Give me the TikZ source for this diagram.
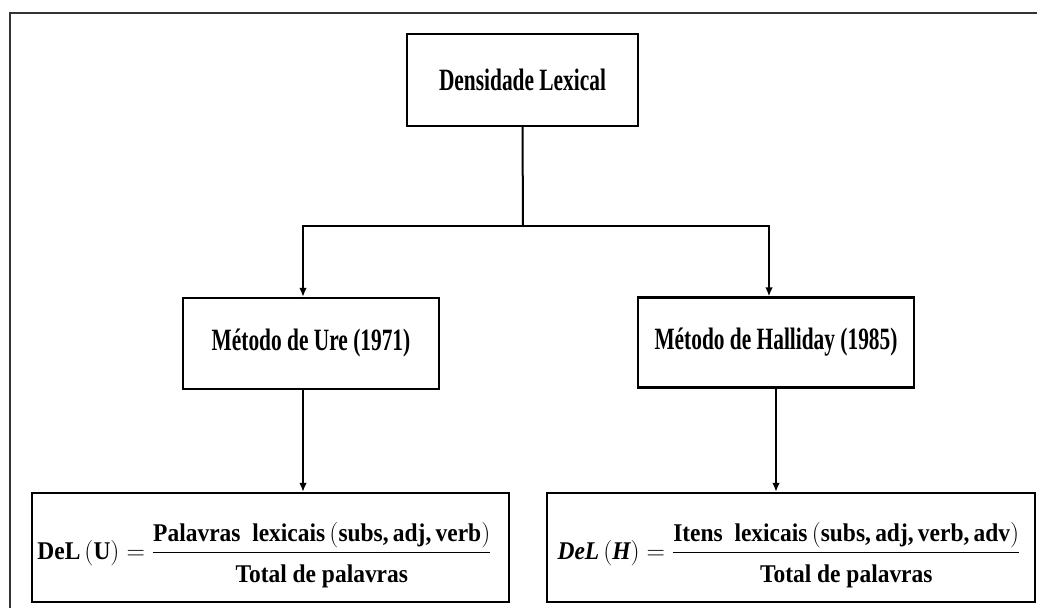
\documentclass[tikz,border=0pt]{standalone}
\usepackage{fix-cm}
\usepackage{amsmath}
\usepackage{fontspec}
\setmainfont{Liberation Serif}
\newfontfamily\ttlfont[FakeStretch=0.69]{Liberation Serif}
\newfontfamily\fmlfont[FakeStretch=0.92]{Liberation Serif}
\usetikzlibrary{arrows.meta}
\newcommand\fracbar[2]{\genfrac{}{}{1.3pt}{0}{#1}{#2}}
\newcommand\dstrut{\rule{0pt}{25.4pt}}
\begin{document}
\begin{tikzpicture}[x=1pt,y=-1pt,
  boxline/.style={draw=black, line width=2.2pt, inner sep=0pt},
  titlebox/.style={boxline, font=\ttlfont\bfseries\fontsize{31}{36}\selectfont},
  formtext/.style={inner sep=0pt, anchor=base, font=\fmlfont\bfseries\fontsize{25.5}{30}\selectfont},
  conn/.style={draw=black, line width=2pt},
  arr/.style={conn, -{Latex[length=9pt,width=7.5pt]}},
  frameline/.style={draw=black!80, line width=1.4pt}]
\useasboundingbox (0,0) rectangle (1037,608);
\fill[white] (0,0) rectangle (1037,608);
% outer frame (cut at right and bottom edges)
\draw[frameline] (10,612) -- (10,13) -- (1041,13);

\node[titlebox, minimum width=231pt, minimum height=92pt] (top) at (522.5,80) {Densidade Lexical};
\node[titlebox, minimum width=256pt, minimum height=91pt] (lm) at (311,343.5) {Método de Ure (1971)};
\node[titlebox, minimum width=276pt, minimum height=90pt] (rm) at (776,342.5) {Método de Halliday (1985)};
\node[boxline, minimum width=477pt, minimum height=109pt] (lb) at (270.5,547.5) {};
\node[boxline, minimum width=488pt, minimum height=109pt] (rb) at (791,547.5) {};
\node[formtext] (lbf) at (264.5,559)
  {$\text{DeL}\hspace{4pt}(\text{U}) = \fracbar{\text{Palavras\ \ lexicais\,}(\text{subs,\,adj,\,verb})}{\dstrut\text{Total de palavras}}$};
\node[formtext] (rbf) at (789,559)
  {$\textit{DeL}\hspace{4pt}(\textit{H}) = \fracbar{\text{Itens\ \ lexicais\,}(\text{subs,\,adj,\,verb,\,adv})}{\dstrut\text{Total de palavras}}$};

\coordinate (j) at (523,226);
\draw[conn] (top.south) -- (j);
\draw[arr] (j) -| ([xshift=-8pt]lm.north);
\draw[arr] (j) -| ([xshift=-7pt]rm.north);
\draw[arr] ([xshift=-8pt]lm.south) -- ([xshift=-8pt]lm.south |- lb.north);
\draw[arr] (rm.south) -- (rm.south |- rb.north);
\end{tikzpicture}
\end{document}
